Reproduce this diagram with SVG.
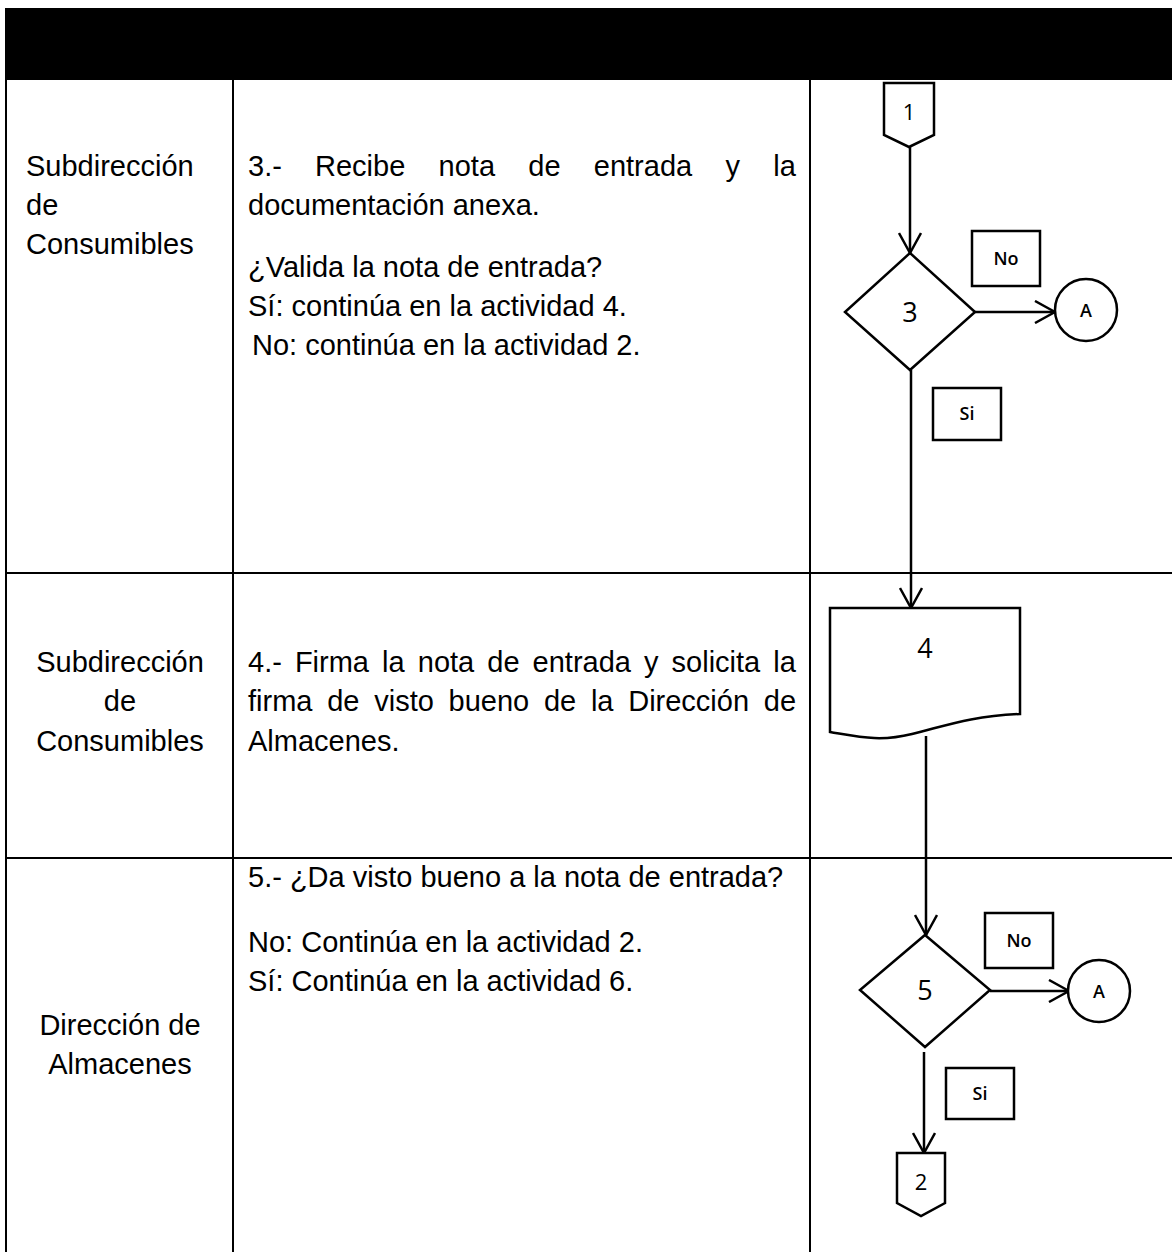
<svg xmlns="http://www.w3.org/2000/svg" width="1172" height="1252" viewBox="0 0 1172 1252">
<defs>
<style>
.t{font-family:"Liberation Sans",Arial,sans-serif;font-size:29px;fill:#000}
.c{text-anchor:middle}
.n{font-family:"Open Sans","Noto Sans",sans-serif;fill:#000;text-anchor:middle}
.l{font-size:18px;font-weight:600}
.s{fill:#fff;stroke:#000;stroke-width:2.5}
.g{stroke:#000;stroke-width:2;fill:none}
.e{stroke:#000;stroke-width:2.5;fill:none}
</style>
<marker id="ah" viewBox="0 0 24 24" refX="22" refY="12" markerWidth="24" markerHeight="24" markerUnits="userSpaceOnUse" orient="auto">
<path d="M2,1 L22,12 L2,23" fill="none" stroke="#000" stroke-width="2.5"/>
</marker>
</defs>
<rect width="1172" height="1252" fill="#fff"/>
<g id="table">
<rect x="5" y="8" width="1167" height="72" fill="#000"/>
<line class="g" x1="6" y1="80" x2="6" y2="1252"/>
<line class="g" x1="233" y1="80" x2="233" y2="1252"/>
<line class="g" x1="810" y1="80" x2="810" y2="1252"/>
<line class="g" x1="6" y1="573" x2="1172" y2="573"/>
<line class="g" x1="6" y1="858" x2="1172" y2="858"/>
</g>
<g id="texts">
<text class="t" x="26" y="176">Subdirección</text>
<text class="t" x="26" y="215">de</text>
<text class="t" x="26" y="254">Consumibles</text>
<text class="t" y="176"><tspan x="248">3.-</tspan><tspan x="315">Recibe</tspan><tspan x="438.6">nota</tspan><tspan x="528.3">de</tspan><tspan x="593.8">entrada</tspan><tspan x="725.4">y</tspan><tspan x="773.2">la</tspan></text>
<text class="t" x="248" y="215">documentación anexa.</text>
<text class="t" x="248" y="277">¿Valida la nota de entrada?</text>
<text class="t" x="248" y="316">Sí: continúa en la actividad 4.</text>
<text class="t" x="252" y="355">No: continúa en la actividad 2.</text>
<text class="t c" x="120" y="672">Subdirección</text>
<text class="t c" x="120" y="711">de</text>
<text class="t c" x="120" y="751">Consumibles</text>
<text class="t" y="672"><tspan x="248">4.-</tspan><tspan x="294.9">Firma</tspan><tspan x="382.1">la</tspan><tspan x="417.8">nota</tspan><tspan x="487.3">de</tspan><tspan x="532.6">entrada</tspan><tspan x="644">y</tspan><tspan x="671.6">solicita</tspan><tspan x="773.3">la</tspan></text>
<text class="t" y="711"><tspan x="248">firma</tspan><tspan x="327.2">de</tspan><tspan x="374.2">visto</tspan><tspan x="448.5">bueno</tspan><tspan x="543.9">de</tspan><tspan x="590.9">la</tspan><tspan x="628.2">Dirección</tspan><tspan x="763.8">de</tspan></text>
<text class="t" x="248" y="751">Almacenes.</text>
<text class="t" x="248" y="887">5.- ¿Da visto bueno a la nota de entrada?</text>
<text class="t" x="248" y="952">No: Continúa en la actividad 2.</text>
<text class="t" x="248" y="991">Sí: Continúa en la actividad 6.</text>
<text class="t c" x="120" y="1035">Dirección de</text>
<text class="t c" x="120" y="1074">Almacenes</text>
</g>
<g id="connectors">
<line class="e" x1="910" y1="147" x2="910" y2="253" marker-end="url(#ah)"/>
<line class="e" x1="975" y1="312" x2="1055" y2="312" marker-end="url(#ah)"/>
<line class="e" x1="911" y1="370" x2="911" y2="608" marker-end="url(#ah)"/>
<line class="e" x1="926" y1="736" x2="926" y2="935" marker-end="url(#ah)"/>
<line class="e" x1="990" y1="991" x2="1069" y2="991" marker-end="url(#ah)"/>
<line class="e" x1="924" y1="1052" x2="924" y2="1153" marker-end="url(#ah)"/>
</g>
<g id="node1">
<path class="s" d="M884,83 H934 V135 L909,147 L884,135 Z"/>
<text class="n" x="909" y="120" font-size="22">1</text>
</g>
<g id="node3">
<path class="s" d="M910,253 L975,312 L910,370 L845,312 Z"/>
<text class="n" x="910" y="322" font-size="27">3</text>
</g>
<g id="label-no-3">
<rect class="s" x="972" y="231" width="68" height="55"/>
<text class="n l" x="1006" y="265">No</text>
</g>
<g id="nodeA1">
<circle class="s" cx="1086" cy="310" r="31"/>
<text class="n l" x="1086" y="317">A</text>
</g>
<g id="label-si-3">
<rect class="s" x="933" y="388" width="68" height="52"/>
<text class="n l" x="967" y="420">Si</text>
</g>
<g id="node4">
<path class="s" d="M830,608 H1020 V714 C970,716 945,726 912,734 C880,742 860,737 830,732 Z"/>
<text class="n" x="925" y="658" font-size="27">4</text>
</g>
<g id="node5">
<path class="s" d="M925,935 L990,990 L925,1047 L860,990 Z"/>
<text class="n" x="925" y="1000" font-size="27">5</text>
</g>
<g id="label-no-5">
<rect class="s" x="985" y="913" width="68" height="55"/>
<text class="n l" x="1019" y="947">No</text>
</g>
<g id="nodeA2">
<circle class="s" cx="1099" cy="991" r="31"/>
<text class="n l" x="1099" y="998">A</text>
</g>
<g id="label-si-5">
<rect class="s" x="946" y="1068" width="68" height="51"/>
<text class="n l" x="980" y="1100">Si</text>
</g>
<g id="node2">
<path class="s" d="M897,1153 H945 V1203 L921,1216 L897,1203 Z"/>
<text class="n" x="921" y="1190" font-size="22">2</text>
</g>
</svg>
